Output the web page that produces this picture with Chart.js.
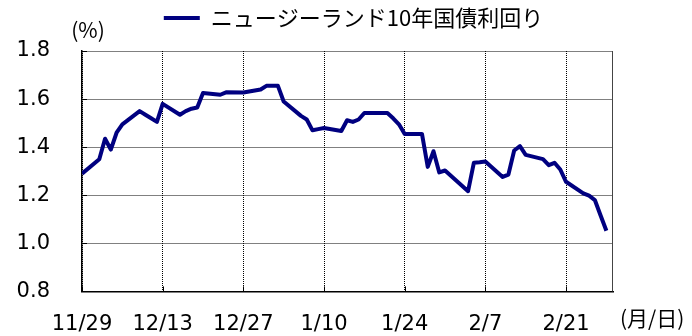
<!DOCTYPE html>
<html>
<head>
<meta charset="utf-8">
<script src="https://cdn.jsdelivr.net/npm/chart.js@4/dist/chart.umd.min.js"></script>
<style>
  html, body { margin: 0; padding: 0; background: #fff; }
  canvas { display: block; }
</style>
</head>
<body>
<canvas id="chart" width="692" height="336"></canvas>
<script>
// New Zealand 10-year government bond yield, daily closes (%)
const seriesName = 'ニュージーランド10年国債利回り';
const dates = [
  '2019-11-29', '2019-12-02', '2019-12-03', '2019-12-04', '2019-12-05', '2019-12-06',
  '2019-12-09', '2019-12-10', '2019-12-11', '2019-12-12', '2019-12-13',
  '2019-12-16', '2019-12-17', '2019-12-18', '2019-12-19', '2019-12-20',
  '2019-12-23', '2019-12-24', '2019-12-27',
  '2019-12-30', '2019-12-31', '2020-01-02', '2020-01-03',
  '2020-01-06', '2020-01-07', '2020-01-08', '2020-01-09', '2020-01-10',
  '2020-01-13', '2020-01-14', '2020-01-15', '2020-01-16', '2020-01-17',
  '2020-01-20', '2020-01-21', '2020-01-22', '2020-01-23', '2020-01-24',
  '2020-01-27', '2020-01-28', '2020-01-29', '2020-01-30', '2020-01-31',
  '2020-02-04', '2020-02-05', '2020-02-06', '2020-02-07',
  '2020-02-10', '2020-02-11', '2020-02-12', '2020-02-13', '2020-02-14',
  '2020-02-17', '2020-02-18', '2020-02-19', '2020-02-20', '2020-02-21',
  '2020-02-24', '2020-02-25', '2020-02-26', '2020-02-27', '2020-02-28'
];
const yields = [
  1.290, 1.350, 1.435, 1.390, 1.460, 1.495,
  1.550, 1.535, 1.520, 1.505, 1.580,
  1.535, 1.550, 1.560, 1.565, 1.625,
  1.618, 1.628, 1.627,
  1.640, 1.655, 1.655, 1.590,
  1.530, 1.515, 1.470, 1.475, 1.480,
  1.467, 1.512, 1.505, 1.515, 1.542,
  1.542, 1.542, 1.520, 1.495, 1.455,
  1.455, 1.318, 1.383, 1.295, 1.303,
  1.217, 1.335, 1.337, 1.340,
  1.276, 1.286, 1.386, 1.404, 1.368,
  1.350, 1.325, 1.335, 1.307, 1.256,
  1.208, 1.198, 1.180, 1.116, 1.052
];
// x-axis labels, one every 14 days from the first date
const tickLabels = ['11/29', '12/13', '12/27', '1/10', '1/24', '2/7', '2/21'];
const tickStepDays = 14;
const yUnit = '(%)';
const xUnit = '(月/日)';

const DAY = 86400000;
const origin = Date.parse(dates[0]);
const dayOffset = d => (Date.parse(d) - origin) / DAY;
const points = dates.map((d, i) => ({ x: dayOffset(d), y: yields[i] }));

const NAVY = '#000080';
const tickFont = { family: '"DejaVu Sans", Verdana, sans-serif', size: 21 };
const cjkFont = '"Noto Sans CJK JP", "DejaVu Sans", sans-serif';

// short solid tick marks drawn inside the plot frame, plus the right frame edge
const innerTicks = {
  id: 'innerTicks',
  beforeDatasetsDraw(chart) {
    const { ctx, chartArea: a, scales: { x, y } } = chart;
    ctx.save();
    ctx.strokeStyle = '#000';
    ctx.lineWidth = 1;
    ctx.beginPath();
    x.ticks.forEach(t => {
      const px = Math.round(x.getPixelForValue(t.value)) + 0.5;
      ctx.moveTo(px, a.bottom);
      ctx.lineTo(px, a.bottom - 5);
    });
    y.ticks.forEach(t => {
      const py = Math.round(y.getPixelForValue(t.value)) + 0.5;
      ctx.moveTo(a.left, py);
      ctx.lineTo(a.left + 5, py);
    });
    ctx.stroke();
    ctx.strokeStyle = '#444';
    ctx.beginPath();
    const rx = Math.round(a.right) - 0.5;
    ctx.moveTo(rx, a.top);
    ctx.lineTo(rx, a.bottom);
    ctx.stroke();
    ctx.restore();
  }
};

// unit captions next to the axes
const unitLabels = {
  id: 'unitLabels',
  afterDraw(chart) {
    const { ctx, chartArea: a } = chart;
    ctx.save();
    ctx.fillStyle = '#000';
    ctx.font = '21px ' + cjkFont;
    ctx.textBaseline = 'middle';
    ctx.textAlign = 'center';
    ctx.fillText(yUnit, a.left + 6, a.top - 21);
    ctx.textAlign = 'left';
    ctx.fillText(xUnit, a.right + 7, a.bottom + 27);
    ctx.restore();
  }
};

// fixed legend band height, legend nudged toward the right
const legendBand = {
  id: 'legendBand',
  beforeInit(chart) {
    const lg = chart.legend;
    if (!lg) return;
    const fit = lg.fit;
    lg.fit = function () {
      fit.call(this);
      this.height = 51;
    };
  },
  afterLayout(chart) {
    const lg = chart.legend;
    if (!lg) return;
    lg.left += 6;
    lg.right += 6;
  }
};

new Chart(document.getElementById('chart'), {
  type: 'line',
  data: {
    datasets: [{
      label: seriesName,
      data: points,
      borderColor: NAVY,
      backgroundColor: NAVY,
      borderWidth: 4,
      pointRadius: 0,
      tension: 0,
      borderJoinStyle: 'round',
      fill: false
    }]
  },
  options: {
    responsive: false,
    animation: false,
    devicePixelRatio: 1,
    layout: { padding: { left: 0, right: 79, top: 0, bottom: 0 } },
    plugins: {
      legend: {
        display: true,
        position: 'top',
        fullSize: false,
        align: 'center',
        labels: {
          usePointStyle: true,
          pointStyle: 'line',
          pointStyleWidth: 36,
          padding: 7,
          color: '#000',
          font: { family: cjkFont, size: 22 }
        }
      },
      tooltip: { enabled: false }
    },
    scales: {
      x: {
        type: 'linear',
        min: 0,
        max: 92.15,
        afterFit(scale) { scale.height = 42; },
        afterBuildTicks(scale) {
          scale.ticks = tickLabels.map((_, i) => ({ value: i * tickStepDays }));
        },
        ticks: {
          autoSkip: false,
          maxRotation: 0,
          padding: 21,
          color: '#000',
          font: tickFont,
          callback: v => tickLabels[Math.round(v / tickStepDays)] ?? ''
        },
        grid: { color: '#000', lineWidth: 1, drawTicks: false },
        border: { display: true, color: '#000', width: 1.5, dash: [1, 1] }
      },
      y: {
        min: 0.8,
        max: 1.8,
        afterFit(scale) { scale.width = 82; },
        ticks: {
          stepSize: 0.2,
          padding: 32,
          color: '#000',
          font: tickFont,
          callback: v => v.toFixed(1)
        },
        grid: { color: '#000', lineWidth: 1, drawTicks: false },
        border: { display: true, color: '#000', width: 1.5, dash: [1, 1] }
      }
    }
  },
  plugins: [legendBand, innerTicks, unitLabels]
});
</script>
</body>
</html>
